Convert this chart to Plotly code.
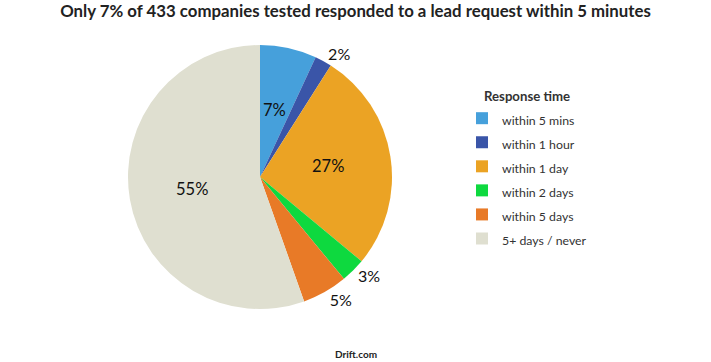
import math
import plotly.graph_objects as go

categories = ["within 5 mins", "within 1 hour", "within 1 day", "within 2 days", "within 5 days", "5+ days / never"]
companies = [30, 9, 117, 13, 24, 240]
pct_labels = ["7%", "2%", "27%", "3%", "5%", "55%"]
colors = ["#46a0db", "#3a55a8", "#eba324", "#0ed93f", "#e87a27", "#dfdfd0"]
inside = [True, False, True, False, False, True]

W, H = 711, 362
cx, cy, r = 260, 177, 132

legend_names = [f'<span style="font-size:12.3px">{c}</span>' for c in categories]
pie_text = ["" if ins else t for ins, t in zip(inside, pct_labels)]

fig = go.Figure(go.Pie(
    labels=legend_names,
    values=companies,
    text=pie_text,
    textinfo="text",
    textposition="outside",
    textfont=dict(family="Lato", size=16, color="#111111"),
    marker=dict(colors=colors, line=dict(width=0)),
    sort=False,
    direction="clockwise",
    rotation=0,
    domain=dict(x=[(cx - r) / W, (cx + r) / W], y=[(H - cy - r) / H, (H - cy + r) / H]),
    hovertemplate="%{label}: %{value}<extra></extra>",
))

# inside labels: placed along each slice's bisector at half radius
total = sum(companies)
annotations = []
cum = 0
for v, t, ins in zip(companies, pct_labels, inside):
    mid = (cum + v / 2) / total * 2 * math.pi
    cum += v
    if not ins:
        continue
    px = cx + 0.52 * r * math.sin(mid)
    py = cy - 0.52 * r * math.cos(mid)
    annotations.append(dict(text=t, x=px / W, y=1 - py / H, xref="paper", yref="paper",
                            xanchor="center", yanchor="middle", showarrow=False,
                            font=dict(family="Lato", size=16.5, color="#111111")))

annotations.append(dict(text="<b>Drift.com</b>", x=0.5, y=1 - 354 / H, xref="paper", yref="paper",
                        xanchor="center", yanchor="middle", showarrow=False,
                        font=dict(family="Lato", size=10, color="#222222")))

fig.update_layout(
    width=W, height=H,
    margin=dict(l=0, r=0, t=0, b=0),
    paper_bgcolor="white",
    font=dict(family="Lato", color="#222222"),
    title=dict(text="<b>Only 7% of 433 companies tested responded to a lead request within 5 minutes</b>",
               x=0.5, xanchor="center", y=1 - 11 / H, yanchor="middle",
               font=dict(family="Lato", size=16.8, color="#222222")),
    legend=dict(
        x=462 / W, xanchor="left", y=1 - 84 / H, yanchor="top",
        title=dict(text="<b>Response time</b>", side="top center", font=dict(size=13.2, family="Lato")),
        font=dict(size=16.2, family="Lato", color="#333333"),
        bgcolor="rgba(0,0,0,0)",
    ),
    annotations=annotations,
)

fig.write_html("out.html", config={"displayModeBar": False},
               post_script="document.body.style.margin='0';")
